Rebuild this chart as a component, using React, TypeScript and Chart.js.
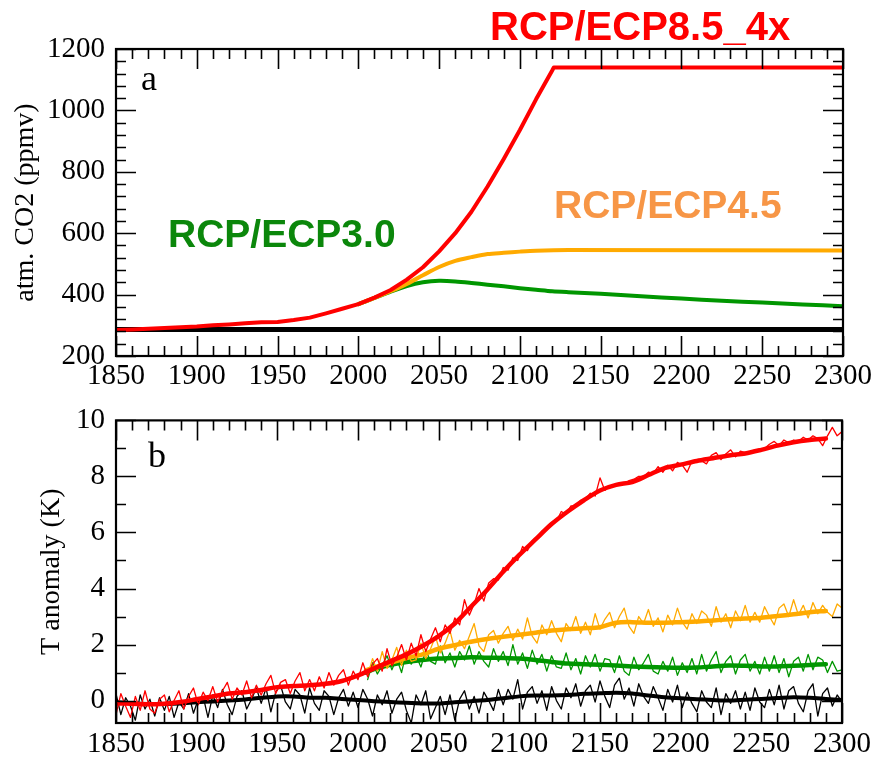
import React, { useEffect, useRef } from "react";
import { Chart, registerables } from "chart.js";

Chart.register(...registerables);

// ---------------- Panel a : atmospheric CO2 (ppmv) ----------------
const CO2_X_TICKS = [1850, 1900, 1950, 2000, 2050, 2100, 2150, 2200, 2250, 2300];
const CO2_Y_TICKS = [200, 400, 600, 800, 1000, 1200];

const CO2_CTRL_YEARS = [1850, 2300];
const CO2_CTRL = [286, 286];

const CO2_85_YEARS = [
  1850, 1860, 1870, 1880, 1890, 1900, 1910, 1920, 1930, 1940,
  1950, 1960, 1970, 1980, 1990, 2000, 2010, 2020, 2030, 2040,
  2050, 2060, 2070, 2080, 2090, 2100, 2110, 2120, 2121, 2300,
];
const CO2_85 = [
  285, 286.5, 288.5, 291, 294, 296, 300, 303, 307, 310,
  311, 317, 325, 339, 354, 369, 390, 415, 449, 489,
  541, 600, 670, 752, 842, 936, 1036, 1130, 1140, 1140,
];

const CO2_45_YEARS = [2000, 2010, 2020, 2030, 2040, 2050, 2060, 2070, 2080, 2090, 2100, 2110, 2130, 2300];
const CO2_45 = [369, 389, 411, 435, 463, 490, 510, 522, 532, 536, 540, 543, 545, 544];

const CO2_30_YEARS = [
  2000, 2010, 2020, 2030, 2040, 2050, 2060, 2070, 2080, 2090, 2100,
  2110, 2120, 2130, 2150, 2175, 2200, 2225, 2250, 2275, 2300,
];
const CO2_30 = [
  369, 389, 410, 428, 440, 445, 443, 438, 432, 427, 421,
  416, 411, 408, 403, 395, 387, 380, 374, 368, 362,
];

// ---------------- Panel b : temperature anomaly (K) ----------------
const T_X_TICKS = [1850, 1900, 1950, 2000, 2050, 2100, 2150, 2200, 2250, 2300];
const T_Y_TICKS = [0, 2, 4, 6, 8, 10];

// smoothed curves (10-year sampling)
const T_SMOOTH_YEARS = [
  1850, 1860, 1870, 1880, 1890, 1900, 1910, 1920, 1930, 1940,
  1950, 1960, 1970, 1980, 1990, 2000, 2010, 2020, 2030, 2040,
  2050, 2060, 2070, 2080, 2090, 2100, 2110, 2120, 2130, 2140,
  2150, 2160, 2170, 2180, 2190, 2200, 2210, 2220, 2230, 2240,
  2250, 2260, 2270, 2280, 2290,
];
const T_85_SMOOTH = [
  -0.10, -0.11, -0.13, -0.11, -0.05, 0.05, 0.15, 0.25, 0.30, 0.38,
  0.48, 0.52, 0.55, 0.60, 0.70, 0.90, 1.15, 1.40, 1.65, 1.95,
  2.30, 2.75, 3.35, 3.95, 4.60, 5.20, 5.75, 6.30, 6.75, 7.15,
  7.50, 7.70, 7.80, 8.05, 8.30, 8.42, 8.55, 8.65, 8.75, 8.82,
  8.95, 9.10, 9.22, 9.30, 9.35,
];

const T_CTRL_SMOOTH_YEARS = [
  1850, 1860, 1870, 1880, 1890, 1900, 1910, 1920, 1930, 1940,
  1950, 1960, 1970, 1980, 1990, 2000, 2010, 2020, 2030, 2040,
  2050, 2060, 2070, 2080, 2090, 2100, 2110, 2120, 2130, 2140,
  2150, 2160, 2170, 2180, 2190, 2200, 2210, 2220, 2230, 2240,
  2250, 2260, 2270, 2280, 2290, 2300,
];
const T_CTRL_SMOOTH = [
  -0.05, -0.10, -0.12, -0.12, -0.10, -0.06, -0.03, 0.00, 0.04, 0.10,
  0.15, 0.15, 0.10, 0.10, 0.06, 0.02, -0.02, -0.05, -0.08, -0.10,
  -0.10, -0.06, -0.02, 0.02, 0.08, 0.15, 0.18, 0.18, 0.20, 0.24,
  0.26, 0.28, 0.25, 0.18, 0.12, 0.08, 0.05, 0.02, 0.00, 0.03,
  0.06, 0.09, 0.12, 0.10, 0.06, 0.02,
];

const T_SCEN_SMOOTH_YEARS = [
  2005, 2010, 2020, 2030, 2040, 2050, 2060, 2070, 2080, 2090,
  2100, 2110, 2120, 2130, 2140, 2150, 2160, 2170, 2180, 2190,
  2200, 2210, 2220, 2230, 2240, 2250, 2260, 2270, 2280, 2290,
];
const T_45_SMOOTH = [
  1.08, 1.18, 1.35, 1.52, 1.65, 1.85, 1.98, 2.10, 2.20, 2.28,
  2.35, 2.42, 2.50, 2.55, 2.58, 2.62, 2.78, 2.80, 2.78, 2.78,
  2.80, 2.82, 2.86, 2.90, 2.93, 2.96, 3.02, 3.08, 3.15, 3.20,
];
const T_30_SMOOTH = [
  1.00, 1.12, 1.28, 1.38, 1.45, 1.50, 1.52, 1.55, 1.53, 1.52,
  1.50, 1.45, 1.38, 1.32, 1.30, 1.28, 1.25, 1.22, 1.20, 1.18,
  1.17, 1.18, 1.22, 1.25, 1.24, 1.22, 1.22, 1.24, 1.27, 1.30,
];

// raw (noisy) curves, 3-year sampling
const T_FULL_START = 1850;
const T_SCEN_START = 2006;
const T_RAW_STEP = 3;

const T_CTRL_RAW = [
  0.25, -0.50, 0.10, -0.20, -0.70, 0.20, -0.30, 0.05, -0.55, 0.10,
  -0.35, 0.15, -0.60, -0.05, -0.30, 0.25, -0.45, 0.05, 0.15, -0.60,
  0.20, -0.25, 0.40, -0.15, -0.50, 0.15, 0.35, -0.30, 0.05, 0.45,
  -0.10, 0.45, -0.40, 0.30, 0.55, -0.05, -0.30, 0.40, 0.20, -0.45,
  0.45, -0.10, -0.35, 0.35, 0.15, -0.50, 0.10, 0.40, -0.20, 0.30,
  -0.25, 0.40, 0.05, -0.55, 0.20, -0.15, 0.35, -0.45, 0.05, 0.30,
  -0.35, -0.80, 0.20, -0.15, 0.35, -0.65, -0.25, 0.15, -0.50, 0.20,
  -0.70, 0.05, 0.35, -0.30, 0.15, -0.45, 0.30, 0.00, -0.35, 0.40,
  -0.15, 0.40, 0.05, 0.75, -0.30, 0.30, 0.50, -0.10, 0.35, -0.35,
  0.50, 0.00, -0.30, 0.45, 0.10, 0.60, -0.20, 0.35, 0.55, -0.05,
  0.70, 0.15, -0.25, 0.55, 0.80, 0.05, 0.45, -0.20, 0.60, 0.15,
  -0.10, 0.50, 0.10, -0.35, 0.40, -0.05, 0.55, -0.25, 0.30, -0.10,
  -0.40, 0.35, -0.05, -0.25, 0.45, -0.50, 0.25, -0.10, 0.35, -0.30,
  0.30, -0.35, 0.45, -0.05, -0.25, 0.40, -0.15, 0.55, -0.30, 0.35,
  0.50, -0.10, -0.40, 0.35, 0.60, -0.55, 0.25, 0.45, -0.20, 0.20,
  -0.05,
];

const T_85_RAW = [
  -0.50, 0.25, -0.20, -0.60, 0.15, -0.35, 0.35, -0.30, -0.45, 0.05,
  0.20, -0.40, 0.00, 0.35, -0.30, 0.15, 0.45, -0.15, 0.30, 0.00,
  0.50, -0.05, 0.35, 0.65, 0.05, 0.45, 0.20, 0.70, 0.10, 0.55,
  0.20, 0.60, 0.90, 0.25, 0.65, 0.75, 0.25, 0.70, 1.00, 0.35,
  0.75, 0.35, 0.85, 0.45, 1.00, 0.55, 0.90, 1.10, 0.55, 1.05,
  0.75, 1.35, 0.85, 1.30, 1.50, 1.05, 1.85, 1.25, 1.55, 2.00,
  1.45, 2.05, 1.60, 2.35, 1.75, 2.20, 2.60, 2.10, 2.70, 2.40,
  2.95, 2.70, 3.60, 3.05, 3.45, 4.00, 3.55, 4.20, 4.35, 4.30,
  4.75, 4.65, 5.10, 5.00, 5.50, 5.35, 5.70, 5.85, 6.05, 6.15,
  6.35, 6.40, 6.75, 6.65, 6.95, 6.95, 7.15, 7.20, 7.40, 7.30,
  7.95, 7.50, 7.65, 7.65, 7.75, 7.75, 7.85, 7.90, 8.00, 8.00,
  8.15, 8.10, 8.35, 8.15, 8.40, 8.20, 8.50, 8.40, 8.15, 8.55,
  8.60, 8.55, 8.45, 8.75, 8.85, 8.60, 8.80, 8.95, 8.70, 8.90,
  8.85, 8.85, 8.95, 8.95, 9.00, 9.15, 9.25, 9.10, 9.30, 9.20,
  9.30, 9.25, 9.40, 9.30, 9.45, 9.35, 9.10, 9.45, 9.75, 9.45,
  9.60,
];

const T_45_RAW = [
  0.90, 1.50, 1.05, 1.75, 1.15, 1.45, 1.90, 1.25, 1.80, 1.40,
  1.45, 2.05, 1.50, 1.85, 2.30, 1.70, 2.05, 2.50, 1.80, 2.15,
  1.85, 2.30, 2.75, 1.95, 1.75, 2.35, 2.50, 2.05, 2.40, 2.65,
  2.15, 2.55, 2.20, 2.95, 2.30, 2.05, 2.70, 2.35, 2.85, 2.40,
  2.10, 2.75, 2.50, 3.00, 2.40, 2.80, 2.35, 3.10, 2.55, 2.90,
  3.15, 2.60, 3.00, 3.30, 2.65, 2.40, 3.00, 2.75, 3.25, 2.65,
  2.95, 2.45, 3.05, 2.70, 3.30, 2.80, 2.55, 3.10, 2.75, 3.20,
  3.05, 2.65, 3.35, 2.80, 3.10, 2.60, 3.20, 2.85, 3.40, 2.80,
  3.15, 2.80, 3.35, 3.00, 2.70, 3.30, 3.45, 3.00, 3.60, 3.05,
  3.40, 2.95, 3.50, 3.10, 3.40, 3.15, 3.00, 3.45, 3.30,
];

const T_30_RAW = [
  0.75, 1.35, 0.95, 1.25, 1.60, 1.10, 1.50, 1.00, 1.75, 1.30,
  1.60, 1.20, 1.80, 1.40, 1.30, 1.95, 1.35, 1.70, 1.20, 1.75,
  1.45, 1.95, 1.30, 1.75, 1.40, 1.20, 1.85, 1.40, 1.75, 1.25,
  2.00, 1.30, 1.70, 1.15, 1.80, 1.30, 1.65, 1.05, 1.60, 1.20,
  1.15, 1.70, 1.10, 1.50, 0.95, 1.60, 1.20, 1.65, 1.05, 1.50,
  1.45, 1.00, 1.60, 1.05, 0.90, 1.55, 1.10, 1.35, 1.65, 1.05,
  0.95, 1.40, 1.05, 1.55, 0.90, 1.35, 1.00, 1.50, 0.95, 1.65,
  1.05, 1.45, 1.75, 1.00, 1.40, 1.60, 0.95, 1.45, 1.65, 1.05,
  1.40, 0.95, 1.55, 1.05, 1.60, 1.00, 1.50, 0.85, 1.40, 1.55,
  1.05, 1.65, 1.10, 1.55, 1.45, 1.00, 1.40, 1.05, 1.10,
];

// ---------------- styling ----------------
const RED = "#ff0000";
const ORANGE = "#ffaa00";
const GREEN = "#009600";
const BLACK = "#000000";
const SERIF = '"Liberation Serif", "DejaVu Serif", serif';
const SANS = '"Liberation Sans", Arial, sans-serif';

const W = 875;
const TOP_H = 392;
const BOT_H = 365;

function pts(xs: number[], ys: number[]) {
  return xs.map((x, i) => ({ x, y: ys[i] }));
}
function rawPts(start: number, ys: number[]) {
  return ys.map((y, i) => ({ x: start + i * T_RAW_STEP, y }));
}
function line(data: any[], color: string, width: number, tension = 0) {
  return {
    data,
    borderColor: color,
    backgroundColor: color,
    borderWidth: width,
    pointRadius: 0,
    tension,
    fill: false,
    borderJoinStyle: "round" as const,
    borderCapStyle: "round" as const,
  };
}

type Txt = { text: string; x: number; y: number; font: string; color: string };

function framePlugin(cfg: {
  xMinor: number; xMajor: number;
  yMinor: number; yMajor: number; yMinorStart: number; yMinorEnd: number;
  texts: Txt[];
}) {
  return {
    id: "frameTicks",
    afterDraw(chart: any) {
      const { ctx, chartArea: a, scales } = chart;
      const xs = scales.x, ys = scales.y;
      const isMajor = (v: number, m: number) => Math.abs(v / m - Math.round(v / m)) < 1e-6;
      ctx.save();
      ctx.strokeStyle = BLACK;
      ctx.lineWidth = 1.6;
      ctx.beginPath();
      for (let v = xs.min; v <= xs.max + 1e-6; v += cfg.xMinor) {
        const p = Math.round(xs.getPixelForValue(v)) + 0.5;
        const len = isMajor(v, cfg.xMajor) ? 20 : 10;
        ctx.moveTo(p, a.bottom); ctx.lineTo(p, a.bottom - len);
        ctx.moveTo(p, a.top); ctx.lineTo(p, a.top + len);
      }
      for (let v = cfg.yMinorStart; v <= cfg.yMinorEnd + 1e-6; v += cfg.yMinor) {
        const p = Math.round(ys.getPixelForValue(v)) + 0.5;
        const len = isMajor(v, cfg.yMajor) ? 20 : 10;
        ctx.moveTo(a.left, p); ctx.lineTo(a.left + len, p);
        ctx.moveTo(a.right, p); ctx.lineTo(a.right - len, p);
      }
      ctx.stroke();
      ctx.lineWidth = 2.2;
      ctx.strokeRect(a.left, a.top, a.right - a.left, a.bottom - a.top);
      ctx.textAlign = "left";
      ctx.textBaseline = "alphabetic";
      for (const t of cfg.texts) {
        ctx.font = t.font;
        ctx.fillStyle = t.color;
        ctx.fillText(t.text, t.x, t.y);
      }
      ctx.restore();
    },
  };
}

function axisX(ticks: number[], height: number, pad: number) {
  return {
    type: "linear" as const,
    min: 1850,
    max: 2300,
    grid: { display: false, drawTicks: false },
    border: { display: false },
    ticks: {
      autoSkip: false,
      maxRotation: 0,
      padding: pad,
      color: BLACK,
      font: { family: SERIF, size: 29 },
      callback: (v: any) => String(v),
    },
    afterBuildTicks: (s: any) => { s.ticks = ticks.map((value) => ({ value })); },
    afterFit: (s: any) => { s.height = height; },
  };
}

function axisY(min: number, max: number, ticks: number[], title: string, titlePad: number) {
  return {
    type: "linear" as const,
    min,
    max,
    grid: { display: false, drawTicks: false },
    border: { display: false },
    ticks: {
      padding: 11,
      color: BLACK,
      font: { family: SERIF, size: 29 },
      callback: (v: any) => String(v),
    },
    title: {
      display: true,
      text: title,
      color: BLACK,
      font: { family: SERIF, size: 28 },
      padding: { top: titlePad, bottom: 0 },
    },
    afterBuildTicks: (s: any) => { s.ticks = ticks.map((value) => ({ value })); },
    afterFit: (s: any) => { s.width = 116; },
  };
}

export default function App() {
  const topRef = useRef<HTMLCanvasElement | null>(null);
  const botRef = useRef<HTMLCanvasElement | null>(null);

  useEffect(() => {
    const common = {
      animation: false as const,
      responsive: false,
      maintainAspectRatio: false,
      devicePixelRatio: 1,
      plugins: { legend: { display: false }, tooltip: { enabled: false } },
      elements: { point: { radius: 0 } },
    };

    const top = new Chart(topRef.current as HTMLCanvasElement, {
      type: "line",
      data: {
        datasets: [
          line(pts(CO2_85_YEARS, CO2_85), RED, 4),
          line(pts(CO2_45_YEARS, CO2_45), ORANGE, 4, 0.3),
          line(pts(CO2_30_YEARS, CO2_30), GREEN, 4, 0.3),
          line(pts(CO2_CTRL_YEARS, CO2_CTRL), BLACK, 5),
        ] as any,
      },
      options: {
        ...common,
        layout: { padding: { top: 49, right: 32, left: 0, bottom: 0 } },
        scales: {
          x: axisX(CO2_X_TICKS, 36, 3),
          y: axisY(200, 1200, CO2_Y_TICKS, "atm. CO2 (ppmv)", 9),
        },
      } as any,
      plugins: [
        framePlugin({
          xMinor: 10, xMajor: 50, yMinor: 40, yMajor: 200, yMinorStart: 200, yMinorEnd: 1200,
          texts: [
            { text: "a", x: 141, y: 90, font: `36px ${SERIF}`, color: BLACK },
            { text: "RCP/ECP8.5_4x", x: 490, y: 40, font: `bold 40px ${SANS}`, color: RED },
            { text: "RCP/ECP3.0", x: 168, y: 247, font: `bold 39px ${SANS}`, color: "#0b870b" },
            { text: "RCP/ECP4.5", x: 554, y: 218, font: `bold 39px ${SANS}`, color: "#f79646" },
          ],
        }),
      ],
    });

    const bot = new Chart(botRef.current as HTMLCanvasElement, {
      type: "line",
      data: {
        datasets: [
          line(pts(T_SMOOTH_YEARS, T_85_SMOOTH), RED, 4.5, 0.3),
          line(rawPts(T_FULL_START, T_85_RAW), RED, 1.3),
          line(pts(T_SCEN_SMOOTH_YEARS, T_45_SMOOTH), ORANGE, 4.5, 0.3),
          line(rawPts(T_SCEN_START, T_45_RAW), ORANGE, 1.3),
          line(pts(T_SCEN_SMOOTH_YEARS, T_30_SMOOTH), GREEN, 4.5, 0.3),
          line(rawPts(T_SCEN_START, T_30_RAW), GREEN, 1.3),
          line(pts(T_CTRL_SMOOTH_YEARS, T_CTRL_SMOOTH), BLACK, 4, 0.3),
          line(rawPts(T_FULL_START, T_CTRL_RAW), BLACK, 1.3),
        ] as any,
      },
      options: {
        ...common,
        layout: { padding: { top: 25, right: 32, left: 0, bottom: 0 } },
        scales: {
          x: axisX(T_X_TICKS, 34, 4),
          y: axisY(-0.8, 10, T_Y_TICKS, "T anomaly (K)", 35),
        },
      } as any,
      plugins: [
        framePlugin({
          xMinor: 10, xMajor: 50, yMinor: 1, yMajor: 2, yMinorStart: 0, yMinorEnd: 10,
          texts: [{ text: "b", x: 148, y: 75, font: `36px ${SERIF}`, color: BLACK }],
        }),
      ],
    });

    return () => {
      top.destroy();
      bot.destroy();
    };
  }, []);

  return (
    <div style={{ position: "absolute", left: 0, top: 0, width: W, height: TOP_H + BOT_H, background: "#fff" }}>
      <canvas ref={topRef} width={W} height={TOP_H} style={{ position: "absolute", left: 0, top: 0, width: W, height: TOP_H }} />
      <canvas ref={botRef} width={W} height={BOT_H} style={{ position: "absolute", left: 0, top: TOP_H, width: W, height: BOT_H }} />
    </div>
  );
}
